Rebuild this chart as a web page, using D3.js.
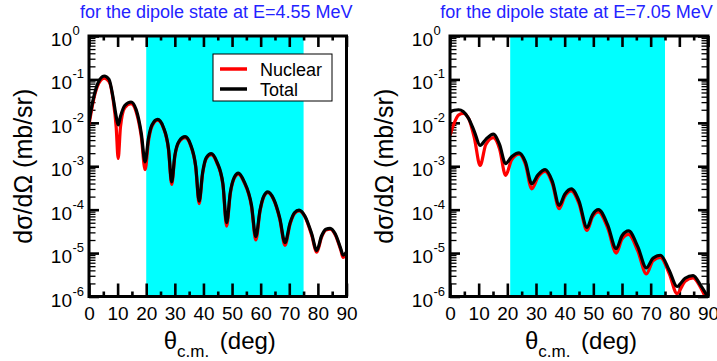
<!DOCTYPE html>
<html>
<head>
<meta charset="utf-8">
<script src="https://cdn.jsdelivr.net/npm/d3@7"></script>
<style>
  html, body { margin: 0; padding: 0; background: #fff; }
  svg { display: block; font-family: "Liberation Sans", Arial, sans-serif; }
</style>
</head>
<body>
<svg id="chart" width="717" height="361"></svg>
<script>
// Angular distributions (mb/sr) vs. c.m. angle (deg)
const angles1 = [0, 1.5, 3, 5.3, 7, 8.5, 9.5, 10.2, 11, 12.5, 14.7, 16.5, 18.3, 19.6, 20.8, 22, 24, 26, 27.8, 28.9,
  30, 31.5, 33.6, 35.5, 37.3, 38.5, 39.7, 41, 42.7, 44.7, 46.8, 48.1, 49.4, 50.8, 52.2, 54.2, 56.8, 58.3, 59.8,
  61, 62.5, 64.5, 66.7, 68.5, 70.3, 71.8, 73.4, 75.5, 77.8, 79.6, 81.3, 82.8, 84.3, 86, 88, 88.8, 90];
const total1 = [1.05e-2, 3.55e-2, 7.94e-2, 1.20e-1, 1.0e-1, 3.55e-2, 1.41e-2, 8.91e-3, 1.41e-2, 2.51e-2, 3.02e-2,
  2.0e-2, 5.62e-3, 1.26e-3, 4.47e-3, 8.91e-3, 1.20e-2, 7.94e-3, 2.51e-3, 4.37e-4,
  1.78e-3, 3.80e-3, 4.79e-3, 3.16e-3, 1.0e-3, 1.58e-4, 7.08e-4, 1.58e-3, 1.95e-3, 1.26e-3, 3.98e-4, 5.01e-5,
  2.51e-4, 5.62e-4, 6.92e-4, 4.47e-4, 1.26e-4, 2.40e-5, 1.0e-4,
  2.0e-4, 2.57e-4, 1.78e-4, 6.31e-5, 1.74e-5, 5.01e-5, 8.51e-5, 9.77e-5, 7.08e-5, 2.82e-5, 1.15e-5, 2.51e-5,
  3.55e-5, 3.72e-5, 2.82e-5, 1.26e-5, 8.91e-6, 1.07e-5];
const nuclear1 = [8.91e-3, 3.16e-2, 7.08e-2, 1.07e-1, 8.91e-2, 3.16e-2, 7.94e-3, 1.51e-3, 7.94e-3, 2.24e-2, 2.75e-2,
  1.78e-2, 4.68e-3, 8.32e-4, 3.80e-3, 8.32e-3, 1.15e-2, 7.59e-3, 2.34e-3, 3.80e-4,
  1.66e-3, 3.63e-3, 4.57e-3, 3.02e-3, 9.33e-4, 1.38e-4, 6.61e-4, 1.51e-3, 1.86e-3, 1.20e-3, 3.72e-4, 4.17e-5,
  2.34e-4, 5.37e-4, 6.61e-4, 4.27e-4, 1.17e-4, 2.0e-5, 9.33e-5,
  1.91e-4, 2.45e-4, 1.70e-4, 5.89e-5, 1.51e-5, 4.68e-5, 8.13e-5, 9.33e-5, 6.76e-5, 2.63e-5, 1.05e-5, 2.34e-5,
  3.39e-5, 3.55e-5, 2.69e-5, 1.17e-5, 7.94e-6, 1.0e-5];

const angles2 = [0, 1.5, 3, 4.6, 6.5, 8.5, 10.5, 12.5, 15.1, 17.3, 19.4, 21.5, 24.1, 26.3, 28.5, 30.7, 33.2, 35.7,
  38.1, 40, 42.3, 45, 47.8, 49.7, 51.8, 55, 58, 60, 62.3, 65.5, 68.5, 70.8, 73.4, 76.5, 79.2, 82, 84.8, 87.5, 90];
const total2 = [1.78e-2, 1.95e-2, 2.0e-2, 1.82e-2, 1.26e-2, 6.31e-3, 3.02e-3, 4.17e-3, 5.50e-3, 3.16e-3, 1.15e-3,
  1.66e-3, 2.04e-3, 1.26e-3, 3.98e-4, 6.31e-4, 8.32e-4, 4.47e-4,
  1.26e-4, 2.24e-4, 3.02e-4, 1.58e-4, 3.89e-5, 7.59e-5, 1.0e-4, 4.47e-5, 1.26e-5, 2.51e-5, 3.24e-5, 1.41e-5,
  4.57e-6, 7.59e-6, 8.91e-6, 3.98e-6, 1.70e-6, 2.63e-6, 3.02e-6, 1.78e-6, 9.55e-7];
const nuclear2 = [5.13e-3, 1.0e-2, 1.51e-2, 1.66e-2, 1.26e-2, 4.47e-3, 1.05e-3, 3.16e-3, 4.57e-3, 2.51e-3, 6.17e-4,
  1.41e-3, 1.91e-3, 1.12e-3, 3.02e-4, 5.62e-4, 7.59e-4, 3.98e-4,
  1.05e-4, 2.0e-4, 2.69e-4, 1.38e-4, 3.31e-5, 6.76e-5, 8.91e-5, 3.80e-5, 1.0e-5, 2.09e-5, 2.69e-5, 1.12e-5,
  3.31e-6, 6.61e-6, 7.94e-6, 3.31e-6, 1.17e-6, 2.24e-6, 2.69e-6, 1.58e-6, 7.08e-7];

// Axis ticks and labels
const xTickValues = [0, 10, 20, 30, 40, 50, 60, 70, 80, 90];
const xMinorValues = [5, 15, 25, 35, 45, 55, 65, 75, 85];
const yExponents = [0, -1, -2, -3, -4, -5, -6];
const titles = ["for the dipole state at E=4.55 MeV", "for the dipole state at E=7.05 MeV"];
const windows = [[20, 75], [21, 75]];          // shaded angular window
const seriesNames = ["Nuclear", "Total"];
const seriesColors = ["#ff0000", "#000000"];

const svg = d3.select("#chart");

function zip(a, v) { return a.map((t, i) => [t, v[i]]); }

function drawPanel(p) {
  const g = svg.append("g");
  const x = d3.scaleLinear().domain([0, 90]).range([p.x0, p.x1]);
  const y = d3.scaleLog().domain([1e-6, 1]).range([p.y1, p.y0]);

  // shaded window
  g.append("rect")
    .attr("x", x(p.band[0])).attr("y", p.y0)
    .attr("width", x(p.band[1]) - x(p.band[0])).attr("height", p.y1 - p.y0)
    .attr("fill", "#00ffff");

  // title
  g.append("text")
    .attr("x", (p.x0 + p.x1) / 2 + p.titleShift).attr("y", 18)
    .attr("text-anchor", "middle")
    .attr("font-size", 18).attr("fill", "#2323ff")
    .text(p.title);

  // minor y ticks (2..9 in each decade)
  const minorY = [];
  for (let e = -6; e < 0; e++) for (let m = 2; m <= 9; m++) minorY.push(m * Math.pow(10, e));

  const tickStyle = (sel, w) => {
    sel.select(".domain").remove();
    sel.selectAll(".tick line").attr("stroke", "#000").attr("stroke-width", w);
  };

  // bottom axis: labels + major ticks
  const bottom = g.append("g").attr("transform", `translate(0,${p.y1})`)
    .call(d3.axisBottom(x).tickValues(xTickValues).tickSize(-13).tickPadding(10).tickFormat(d3.format("d")));
  tickStyle(bottom, 2.6);
  bottom.selectAll(".tick text").attr("font-size", 19).attr("fill", "#000")
    .attr("font-family", "'Liberation Sans', Arial, sans-serif");
  const bottomMinor = g.append("g").attr("transform", `translate(0,${p.y1})`)
    .call(d3.axisBottom(x).tickValues(xMinorValues).tickSize(-5).tickFormat(""));
  tickStyle(bottomMinor, 2.6);

  // top axis
  const top = g.append("g").attr("transform", `translate(0,${p.y0})`)
    .call(d3.axisTop(x).tickValues(xTickValues).tickSize(-11).tickFormat(""));
  tickStyle(top, 2.6);
  const topMinor = g.append("g").attr("transform", `translate(0,${p.y0})`)
    .call(d3.axisTop(x).tickValues(xMinorValues).tickSize(-4.5).tickFormat(""));
  tickStyle(topMinor, 2.6);

  // left axis
  const yMajor = yExponents.map(e => Math.pow(10, e));
  const left = g.append("g").attr("transform", `translate(${p.x0},0)`)
    .call(d3.axisLeft(y).tickValues(yMajor).tickSize(-10).tickFormat(""));
  tickStyle(left, 2.6);
  const leftMinor = g.append("g").attr("transform", `translate(${p.x0},0)`)
    .call(d3.axisLeft(y).tickValues(minorY).tickSize(-6.5).tickFormat(""));
  tickStyle(leftMinor, 1.3);

  if (p.rightTicks) {
    const right = g.append("g").attr("transform", `translate(${p.x1},0)`)
      .call(d3.axisRight(y).tickValues(yMajor).tickSize(-10).tickFormat(""));
    tickStyle(right, 2.6);
    const rightMinor = g.append("g").attr("transform", `translate(${p.x1},0)`)
      .call(d3.axisRight(y).tickValues(minorY).tickSize(-6.5).tickFormat(""));
    tickStyle(rightMinor, 1.3);
  }

  // y tick labels 10^n
  yExponents.forEach(e => {
    const ty = y(Math.pow(10, e));
    g.append("text")
      .attr("x", p.x0 - 17).attr("y", ty + 10)
      .attr("text-anchor", "end").attr("font-size", 19).attr("fill", "#000")
      .text("10");
    g.append("text")
      .attr("x", p.x0 - 16.5).attr("y", ty - 1)
      .attr("text-anchor", "start").attr("font-size", 13).attr("fill", "#000")
      .text(e === 0 ? "0" : String(e));
  });

  // curves
  const clipId = "clip" + p.id;
  svg.append("clipPath").attr("id", clipId).append("rect")
    .attr("x", p.x0).attr("y", p.y0).attr("width", p.x1 - p.x0).attr("height", p.y1 - p.y0);
  const line = d3.line().x(d => x(d[0])).y(d => y(d[1])).curve(d3.curveMonotoneX);
  const curves = g.append("g").attr("clip-path", `url(#${clipId})`);
  curves.append("path").datum(zip(p.angles, p.nuclear))
    .attr("d", line).attr("fill", "none").attr("stroke", seriesColors[0])
    .attr("stroke-width", 3.2).attr("stroke-linejoin", "round");
  curves.append("path").datum(zip(p.angles, p.total))
    .attr("d", line).attr("fill", "none").attr("stroke", seriesColors[1])
    .attr("stroke-width", 3.2).attr("stroke-linejoin", "round");

  // frame
  g.append("rect")
    .attr("x", p.x0).attr("y", p.y0).attr("width", p.x1 - p.x0).attr("height", p.y1 - p.y0)
    .attr("fill", "none").attr("stroke", "#000").attr("stroke-width", 3);

  // x axis title
  const xt = g.append("text")
    .attr("x", (p.x0 + p.x1) / 2 + 2).attr("y", 349)
    .attr("text-anchor", "middle").attr("font-size", 24).attr("fill", "#000");
  xt.append("tspan").text("θ");
  xt.append("tspan").attr("font-size", 17).attr("dy", 8).text("c.m.");
  xt.append("tspan").attr("dy", -8).attr("dx", 4).text(" (deg)");

  // y axis title
  g.append("text")
    .attr("transform", `translate(${p.x0 - 57},${(p.y0 + p.y1) / 2}) rotate(-90)`)
    .attr("text-anchor", "middle").attr("font-size", 25).attr("fill", "#000")
    .text("dσ/dΩ (mb/sr)");

  if (p.legend) {
    const lx = p.x0 + 124, ly = p.y0 + 18;
    const lg = g.append("g").attr("transform", `translate(${lx},${ly})`);
    lg.append("rect").attr("x", 0).attr("y", 0).attr("width", 119).attr("height", 47)
      .attr("fill", "#fff").attr("stroke", "#000").attr("stroke-width", 1);
    seriesNames.forEach((name, i) => {
      lg.append("line").attr("x1", 7).attr("x2", 34).attr("y1", 15 + i * 20).attr("y2", 15 + i * 20)
        .attr("stroke", seriesColors[i]).attr("stroke-width", 3.5);
      lg.append("text").attr("x", 47).attr("y", 22 + i * 20)
        .attr("font-size", 18).attr("fill", "#000").text(name);
    });
  }
}

drawPanel({ id: 1, x0: 89, x1: 346.5, y0: 36, y1: 296.5, band: windows[0], title: titles[0], titleShift: -1.5,
  angles: angles1, total: total1, nuclear: nuclear1, legend: true, rightTicks: false });
drawPanel({ id: 2, x0: 450, x1: 708, y0: 36, y1: 296.5, band: windows[1], title: titles[1], titleShift: -2.5,
  angles: angles2, total: total2, nuclear: nuclear2, legend: false, rightTicks: true });
</script>
</body>
</html>
